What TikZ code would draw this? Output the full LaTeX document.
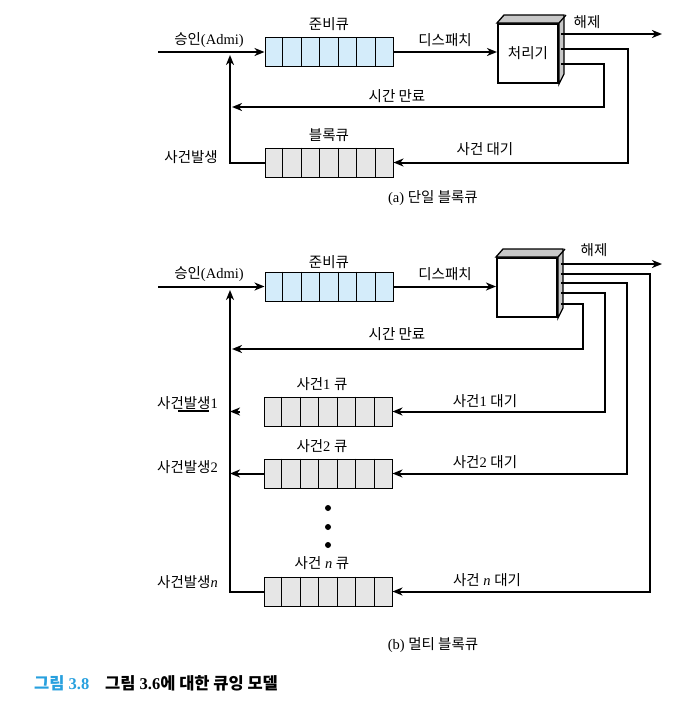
\documentclass[tikz,border=0pt]{standalone}
\usepackage{fontspec}
\setmainfont{Liberation Serif}
\newfontfamily\kr{Noto Sans CJK KR}
\usepackage{tikz}
\usetikzlibrary{calc}
\usetikzlibrary{arrows.meta}
\definecolor{readyblue}{RGB}{212,236,250}
\definecolor{blockgray}{RGB}{230,230,230}
\definecolor{facegray}{RGB}{200,200,200}
\definecolor{capblue}{RGB}{40,160,222}
\tikzset{
	queue/.style={draw,line width=1pt,minimum width=128pt,minimum height=29pt,inner sep=0pt},
	readyq/.style={queue,fill=readyblue},
	blockq/.style={queue,fill=blockgray},
	wire/.style={line width=2pt},
	flow/.style={wire,-{Stealth[length=10pt,width=8pt,inset=3pt]}},
	proc/.style={draw,fill=white,line width=2pt,minimum width=60pt,minimum height=59pt,inner sep=0pt},
	lbl/.style={font=\fontsize{14.5}{17}\selectfont,inner sep=1pt},
}
\def\cells#1{% divide a queue node into 7 cells
	\foreach \i in {1,...,6}
		\draw[line width=1pt] ($(#1.north west)!\i/7!(#1.north east)$)--($(#1.south west)!\i/7!(#1.south east)$);
}
\def\depth#1{% grey top and side faces of a processor box
	\draw[line width=1.3pt,fill=facegray] (#1.north west)--++(7,-8)--++(60,0)--++(0,59)--(#1.south east)--(#1.north east)--cycle;
	\draw[line width=1.3pt] (#1.north east)--++(7,-8);
}

\begin{document}
\begin{tikzpicture}[x=1pt,y=-1pt]
	\useasboundingbox (0,0) rectangle (688,707);

	%(a) SINGLE BLOCKED QUEUE
	\node[readyq] (rqA) at (329,52) {};		\cells{rqA}
	\node[blockq] (bqA) at (329,162.5) {};	\cells{bqA}
	\node[proc] (procA) at (528,53.5) {};
	\depth{procA}
	\node[lbl] (procAtxt) at (procA) {\kr 처리기};
	\coordinate (srcA) at (158,52);
	\coordinate (inA) at (230,55);
	\coordinate (toA) at (232,107);
	\coordinate (relA) at (662,34);
	\coordinate (outA1) at (561,34);
	\coordinate (outA2) at (561,49);
	\coordinate (outA3) at (561,64);
	\draw[flow] (srcA)--(rqA.west);
	\draw[flow] (rqA.east)--(rqA.east -| procA.west);
	\draw[flow] (outA1)--(relA);							%release
	\draw[flow] (outA2)--++(67,0) |- (bqA.east);			%event wait
	\draw[flow] (outA3)--++(43,0) |- (toA);				%timeout
	\draw[flow] (bqA.west) -| (inA);						%event occurs
	%
	\node[lbl] (rqAlbl) at (329,24)		{\kr 준비큐};
	\node[lbl] (admA) at (209,40)		{{\kr 승인}(Admi)};
	\node[lbl] (dspA) at (445,40)		{\kr 디스패치};
	\node[lbl] (relAlbl) at (587,22)	{\kr 해제};
	\node[lbl] (toAlbl) at (397,96)		{\kr 시간 만료};
	\node[lbl] (bqAlbl) at (329,135)	{\kr 블록큐};
	\node[lbl] (waitA) at (485,149)		{\kr 사건 대기};
	\node[lbl,anchor=east] (evA) at (219,157)	{\kr 사건발생};
	\node[lbl] (capA) at (433,198)		{(a) {\kr 단일 블록큐}};

	%(b) MULTIPLE BLOCKED QUEUES
	\node[readyq] (rqB) at (329,286.5) {};	\cells{rqB}
	\node[blockq] (q1) at (328,411.5) {};	\cells{q1}
	\node[blockq] (q2) at (328,473.5) {};	\cells{q2}
	\node[blockq] (qn) at (328,591.5) {};	\cells{qn}
	\node[proc] (procB) at (527,287.5) {};
	\depth{procB}
	\coordinate (srcB) at (158,286.5);
	\coordinate (inB) at (230,290);
	\coordinate (toB) at (232,349);
	\coordinate (relB) at (662,264);
	\coordinate (outB1) at (561,264);
	\coordinate (outB2) at (561,274);
	\coordinate (outB3) at (561,283);
	\coordinate (outB4) at (561,293);
	\coordinate (outB5) at (561,304);
	\draw[flow] (srcB)--(rqB.west);
	\draw[flow] (rqB.east)--(rqB.east -| procB.west);
	\draw[flow] (outB1)--(relB);							%release
	\draw[flow] (outB2)--++(89,0) |- (qn.east);			%event n wait
	\draw[flow] (outB3)--++(66,0) |- (q2.east);			%event 2 wait
	\draw[flow] (outB4)--++(44,0) |- (q1.east);			%event 1 wait
	\draw[flow] (outB5)--++(22,0) |- (toB);				%timeout
	\draw[flow] (qn.west) -| (inB);						%event n occurs
	\draw[flow] (q2.west)--(inB |- q2.west);				%event 2 occurs
	\draw[flow] ($(inB |- q1.west)+(10,0)$)--(inB |- q1.west);	%event 1 occurs
	\draw[wire] (178,411)--(209,411);
	%
	\foreach \y in {508,527,545}
		\fill (328,\y) circle (3);
	%
	\node[lbl] (rqBlbl) at (329,262)	{\kr 준비큐};
	\node[lbl] (admB) at (209,274)		{{\kr 승인}(Admi)};
	\node[lbl] (dspB) at (445,274)		{\kr 디스패치};
	\node[lbl] (relBlbl) at (594,250)	{\kr 해제};
	\node[lbl] (toBlbl) at (397,334)	{\kr 시간 만료};
	\node[lbl] (q1lbl) at (322,384)		{{\kr 사건}1 {\kr 큐}};
	\node[lbl] (q2lbl) at (322,446)		{{\kr 사건}2 {\kr 큐}};
	\node[lbl] (qnlbl) at (322,563)		{{\kr 사건} \textit{n} {\kr 큐}};
	\node[lbl] (wait1) at (485,401)		{{\kr 사건}1 {\kr 대기}};
	\node[lbl] (wait2) at (485,462)		{{\kr 사건}2 {\kr 대기}};
	\node[lbl] (waitn) at (487,580)		{{\kr 사건} \textit{n} {\kr 대기}};
	\node[lbl,anchor=east] (ev1) at (219,403)	{{\kr 사건발생}1};
	\node[lbl,anchor=east] (ev2) at (219,467)	{{\kr 사건발생}2};
	\node[lbl,anchor=east] (evn) at (219,582)	{{\kr 사건발생}\textit{n}};
	\node[lbl] (capB) at (433,645)		{(b) {\kr 멀티 블록큐}};

	%FIGURE CAPTION
	\node[lbl,anchor=west,font=\fontsize{16.5}{19}\selectfont\bfseries,text=capblue] (fignum) at (33,683) {{\kr 그림} 3.8};
	\node[lbl,anchor=west,font=\fontsize{16.5}{19}\selectfont\bfseries] (figtxt) at (104,683) {{\kr 그림} 3.6{\kr 에 대한 큐잉 모델}};
\end{tikzpicture}
\end{document}
